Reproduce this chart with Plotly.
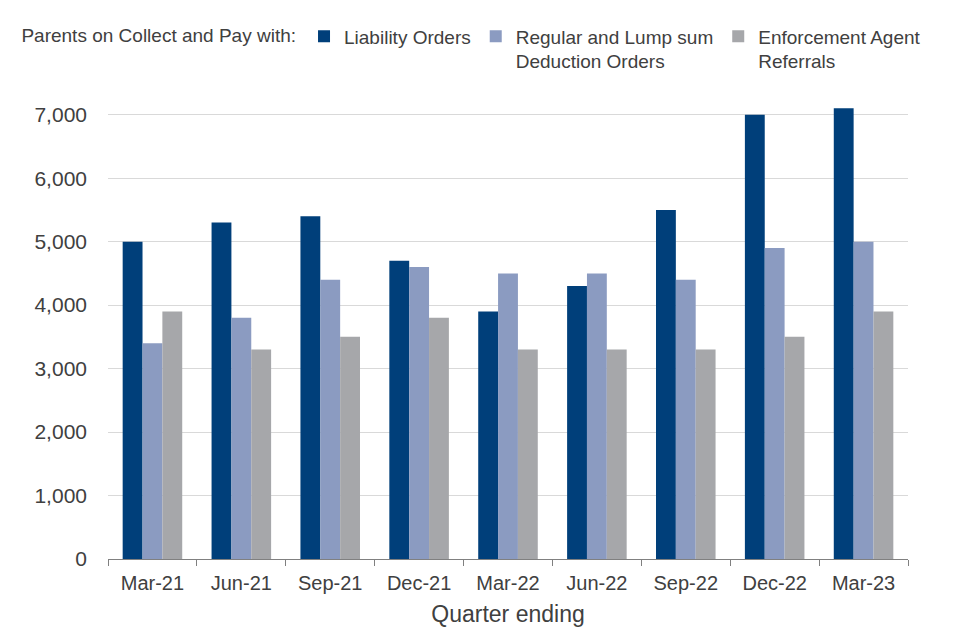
import plotly.graph_objects as go

quarters = ["Mar-21", "Jun-21", "Sep-21", "Dec-21", "Mar-22", "Jun-22", "Sep-22", "Dec-22", "Mar-23"]
liability_orders = [5000, 5300, 5400, 4700, 3900, 4300, 5500, 7000, 7100]
deduction_orders = [3400, 3800, 4400, 4600, 4500, 4500, 4400, 4900, 5000]
enforcement_referrals = [3900, 3300, 3500, 3800, 3300, 3300, 3300, 3500, 3900]
y_ticks = [0, 1000, 2000, 3000, 4000, 5000, 6000, 7000]

series = [
    ("Liability Orders", liability_orders, "#003f7a"),
    ("Regular and Lump sum<br>Deduction Orders", deduction_orders, "#8b9bc1"),
    ("Enforcement Agent<br>Referrals", enforcement_referrals, "#a6a7aa"),
]

fig = go.Figure()
for name, vals, col in series:
    fig.add_trace(go.Bar(x=quarters, y=vals, name=name, marker_color=col,
                         marker_line_width=0))

fig.update_layout(
    width=952, height=632,
    paper_bgcolor="white", plot_bgcolor="white",
    font=dict(family="Liberation Sans, Arial, sans-serif", size=20, color="#404040"),
    barmode="group", bargap=0.33, bargroupgap=0,
    margin=dict(l=100, r=52, t=94, b=81, autoexpand=False),
    legend=dict(orientation="h", xref="container", x=0.012, xanchor="left",
                yref="container", y=0.985, yanchor="top",
                title=dict(text="Parents on Collect and Pay with:", side="left",
                           font=dict(size=19)),
                font=dict(size=19), itemwidth=30, valign="top",
                traceorder="normal", tracegroupgap=0),
    showlegend=True,
)
fig.update_xaxes(showline=True, linecolor="#808080", linewidth=1,
                 ticks="outside", tickcolor="#808080", ticklen=6,
                 tickson="boundaries",
                 tickfont=dict(size=20, color="#404040"), ticklabelstandoff=6,
                 title=dict(text="Quarter ending", font=dict(size=23, color="#404040"),
                            standoff=12))
fig.update_yaxes(range=[0, 7200], tickvals=y_ticks, tickformat=",",
                 showgrid=True, gridcolor="#d9d9d9", gridwidth=1,
                 zeroline=False, showline=False,
                 tickfont=dict(size=21, color="#404040"), ticklabelstandoff=20)

fig.write_html("out.html")
